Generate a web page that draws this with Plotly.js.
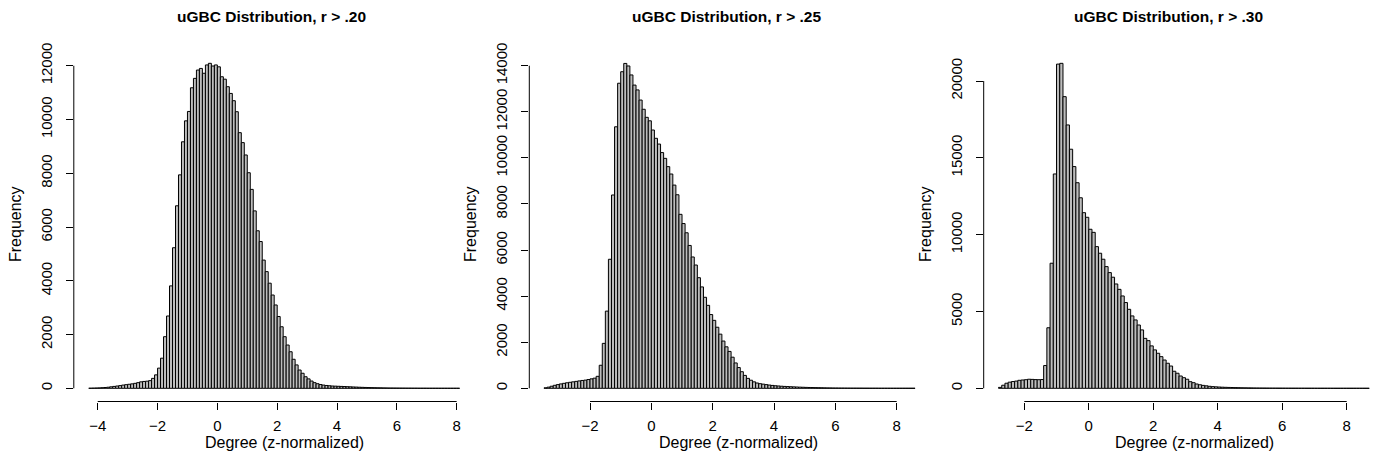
<!DOCTYPE html>
<html>
<head>
<meta charset="utf-8">
<script src="https://cdn.plot.ly/plotly-3.0.1.min.js"></script>
<style>html,body{margin:0;padding:0;background:#fff;}#chart{width:1375px;height:472px;}</style>
</head>
<body>
<div id="chart"></div>
<script>
// ---------------- data ----------------
const titles = ["uGBC Distribution, r > .20", "uGBC Distribution, r > .25", "uGBC Distribution, r > .30"];
const xLabel = "Degree (z-normalized)";
const yLabel = "Frequency";
const binWidth = 0.1;

const binStart20 = -4.3;
const counts20 = [
  3, 6, 10, 15, 22, 30, 40, 55, 70, 85,
  100, 120, 135, 150, 165, 185, 210, 240, 255, 265,
  285, 370, 500, 750, 1120, 1920, 2690, 3810, 5230, 6790,
  7940, 9170, 9950, 10300, 11180, 11530, 11840, 11900, 11720, 12030,
  12090, 11990, 12030,
  11960, 11590, 11500, 11220, 10970, 10700, 10290, 9510, 9140, 8680,
  8020, 7400, 6600, 5860, 5460, 4770, 4340, 3910, 3470, 3100,
  2670, 2290, 1920, 1610, 1360, 1080, 870, 680, 560, 430,
  350, 270, 210, 170, 140, 120, 105, 95, 85, 80,
  75, 70, 65, 60, 55, 50, 45, 40, 36, 32,
  28, 25, 22, 19, 17, 15, 13, 11, 10, 9,
  8, 7, 6, 5, 5, 4, 4, 3, 3, 3,
  2, 2, 2, 2, 1, 1, 1, 1, 1, 1, 1
];

const binStart25 = -3.5;
const counts25 = [
  20, 50, 90, 130, 160, 190, 215, 240, 260, 280,
  300, 320, 340, 355, 380, 410, 440, 520, 1000, 1950,
  3350, 5600, 8390, 11350, 13240, 13740, 14100, 13990, 13600, 13160,
  12950, 12510, 12110, 11760, 11610,
  11210, 10850, 10600, 10230, 9980, 9620, 9300, 8820, 8400, 7550,
  7150, 6750, 6200, 5700, 5350, 4800, 4400, 3950, 3600, 3200,
  2950, 2650, 2350, 2050, 1800, 1600, 1350, 1100, 900, 720,
  560, 430, 350, 280, 230, 200, 180, 160, 140, 125,
  110, 100, 90, 82, 75, 68, 62, 56, 50, 45,
  40, 36, 32, 28, 25, 22, 19, 17, 15, 13,
  12, 10, 9, 8, 7, 6, 6, 5, 5, 4,
  4, 3, 3, 3, 2, 2, 2, 2, 1, 1,
  1, 1, 1, 1, 1, 1
];

const binStart30 = -2.8;
const counts30 = [
  60, 200, 330, 400, 440, 470, 520, 540, 560, 590,
  580, 565, 560, 570, 1480, 3940, 8140, 13950, 21100, 21150,
  18980, 17140, 15560, 14430, 13380, 12400, 11430, 11130,
  10350, 10150, 9220, 8790, 8400, 7920, 7530, 7230, 6790, 6440,
  6010, 5580, 5140, 4710, 4450, 4120, 3800, 3250, 3100, 2760,
  2500, 2280, 2060, 1840, 1630, 1450, 1110, 980, 800, 690,
  590, 430, 365, 280, 230, 190, 160, 130, 110, 95,
  82, 72, 64, 57, 50, 44, 39, 34, 30, 26,
  23, 20, 18, 16, 14, 12, 11, 10, 9, 8,
  7, 6, 6, 5, 5, 4, 4, 3, 3, 3,
  2, 2, 2, 2, 2, 1, 1, 1, 1, 1,
  1, 1, 1, 1, 1, 1, 1
];

const xTicks20 = [-4, -2, 0, 2, 4, 6, 8];
const xTicks25 = [-2, 0, 2, 4, 6, 8];
const xTicks30 = [-2, 0, 2, 4, 6, 8];
const yTicks20 = [0, 2000, 4000, 6000, 8000, 10000, 12000];
const yTicks25 = [0, 2000, 4000, 6000, 8000, 10000, 12000, 14000];
const yTicks30 = [0, 5000, 10000, 15000, 20000];

// ---------------- layout helpers ----------------
const W = 1375, H = 472;
const FONT = "Liberation Sans, Arial, Helvetica, sans-serif";
const fmt = v => (v < 0 ? "\u2212" + Math.abs(v) : String(v));

const panels = [
  {start: binStart20, counts: counts20, xt: xTicks20, yt: yTicks20,
   px: [73.8, 474.6], xr: [-4.8, 8.6], yr: [-491, 12567],
   titleX: 271.7, xlabX: 284, ylabX: 15},
  {start: binStart25, counts: counts25, xt: xTicks25, yt: yTicks25,
   px: [529.3, 929.8], xr: [-3.98, 9.08], yr: [-573, 14661],
   titleX: 726.7, xlabX: 739, ylabX: 470},
  {start: binStart30, counts: counts30, xt: xTicks30, yt: yTicks30,
   px: [983.7, 1374], xr: [-3.259, 8.847], yr: [-859, 21985],
   titleX: 1168.3, xlabX: 1194, ylabX: 925}
];
const yDomPx = [401.5, 50.5]; // bottom, top in pixels from top

const data = [];
const layout = {
  width: W, height: H,
  margin: {l: 0, r: 0, t: 0, b: 0, pad: 0},
  paper_bgcolor: "#fff", plot_bgcolor: "#fff",
  showlegend: false, bargap: 0,
  font: {family: FONT, size: 16, color: "#000"},
  shapes: [], annotations: []
};

panels.forEach((p, i) => {
  const n = i + 1;
  const xa = n === 1 ? "x" : "x" + n;
  const ya = n === 1 ? "y" : "y" + n;
  const xs = p.counts.map((_, k) => p.start + (k + 0.5) * binWidth);
  data.push({
    type: "bar", x: xs, y: p.counts, width: binWidth,
    xaxis: xa, yaxis: ya,
    marker: {color: "#bdbdbd", line: {color: "#000", width: 1}},
    hoverinfo: "skip"
  });
  const xKey = n === 1 ? "xaxis" : "xaxis" + n;
  const yKey = n === 1 ? "yaxis" : "yaxis" + n;
  layout[xKey] = {
    domain: [p.px[0] / W, p.px[1] / W], range: p.xr, anchor: ya,
    showgrid: false, zeroline: false, showline: false,
    ticks: "outside", ticklen: 7, tickwidth: 1, tickcolor: "#000",
    tickmode: "array", tickvals: p.xt, ticktext: p.xt.map(fmt),
    ticklabelstandoff: 3,
    tickfont: {family: FONT, size: 15, color: "#000"}
  };
  layout[yKey] = {
    domain: [1 - yDomPx[0] / H, 1 - yDomPx[1] / H], range: p.yr, anchor: xa,
    showgrid: false, zeroline: false, showline: false,
    ticks: "outside", ticklen: 7, tickwidth: 1, tickcolor: "#000",
    tickmode: "array", tickvals: p.yt, ticktext: p.yt.map(String),
    tickangle: -90, ticklabelstandoff: 8,
    tickfont: {family: FONT, size: 15, color: "#000"}
  };
  // R-style detached axis lines spanning the tick range
  layout.shapes.push({type: "line", xref: xa + " domain", yref: ya,
    x0: 0, x1: 0, y0: p.yt[0], y1: p.yt[p.yt.length - 1],
    line: {color: "#000", width: 1}});
  layout.shapes.push({type: "line", xref: xa, yref: ya + " domain",
    x0: p.xt[0], x1: p.xt[p.xt.length - 1], y0: 0, y1: 0,
    line: {color: "#000", width: 1}});
  // titles
  layout.annotations.push({xref: "paper", yref: "paper",
    x: p.titleX / W, y: 1 - 16.5 / H, xanchor: "center", yanchor: "middle",
    text: "<b>" + titles[i] + "</b>", showarrow: false,
    font: {family: FONT, size: 15.5, color: "#000"}});
  layout.annotations.push({xref: "paper", yref: "paper",
    x: p.xlabX / W, y: 1 - 442 / H, xanchor: "center", yanchor: "middle",
    text: xLabel, showarrow: false,
    font: {family: FONT, size: 16, color: "#000"}});
  layout.annotations.push({xref: "paper", yref: "paper",
    x: p.ylabX / W, y: 1 - 224 / H, xanchor: "center", yanchor: "middle",
    text: yLabel, textangle: -90, showarrow: false,
    font: {family: FONT, size: 16, color: "#000"}});
});

Plotly.newPlot("chart", data, layout, {staticPlot: true, displayModeBar: false});
</script>
</body>
</html>
